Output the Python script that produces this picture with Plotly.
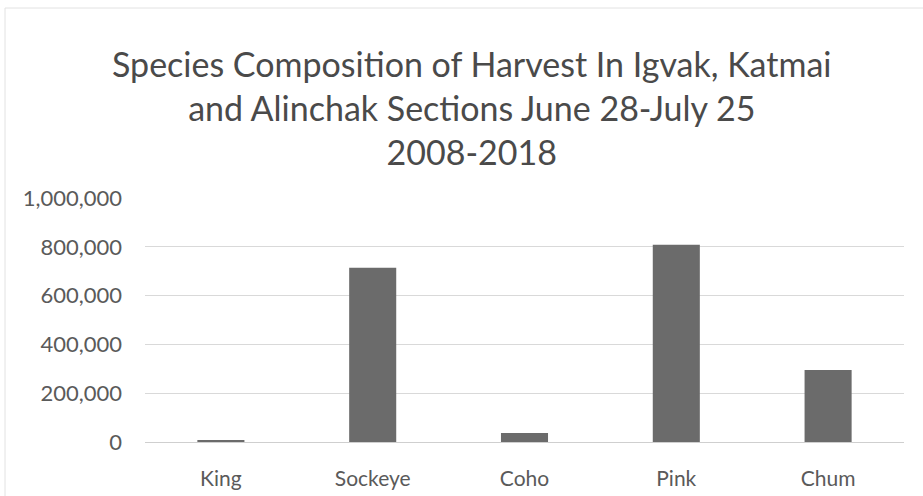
import plotly.graph_objects as go

species = ["King", "Sockeye", "Coho", "Pink", "Chum"]
harvest = [5000, 714000, 37000, 808000, 295000]
y_ticks = [0, 200000, 400000, 600000, 800000, 1000000]
y_tick_labels = ["0", "200,000", "400,000", "600,000", "800,000", "1,000,000"]
title_text = ("Species Composition of Harvest In Igvak, Katmai<br>"
              "and Alinchak Sections June 28-July 25<br>2008-2018")

W, H = 923, 496
L, R, T, B = 145, 19, 198, 54
PW, PH = W - L - R, H - T - B

fig = go.Figure(go.Bar(x=species, y=harvest, marker=dict(color="#6b6b6b", line=dict(width=0)),
                       width=0.31))

fig.update_layout(
    width=W, height=H,
    margin=dict(l=L, r=R, t=T, b=B),
    paper_bgcolor="white", plot_bgcolor="white",
    font=dict(family="Lato", color="#5a5a5a"),
    showlegend=False,
)
fig.add_annotation(text=title_text, xref="paper", yref="paper",
                   x=(472 - L) / PW, y=(H - B - 107) / PH,
                   xanchor="center", yanchor="middle", showarrow=False,
                   align="center",
                   font=dict(family="Lato", size=34, color="#4a4a4a"))
fig.update_yaxes(range=[0, 1000000], tickvals=y_ticks, ticktext=y_tick_labels,
                 showgrid=True, gridcolor="#d9d9d9", gridwidth=1,
                 zeroline=True, zerolinecolor="#cfcfcf", zerolinewidth=1,
                 showline=False, ticks="", ticklabelstandoff=22, automargin=False,
                 tickfont=dict(family="Lato", size=22, color="#5a5a5a"))
fig.update_xaxes(showgrid=False, showline=False, ticks="", ticklabelstandoff=22,
                 automargin=False,
                 tickfont=dict(family="Lato", size=21, color="#5a5a5a"))

fig.add_shape(type="rect", xref="paper", yref="paper",
              x0=-(L - 5) / PW, x1=1 + (R + 5) / PW,
              y0=-(B + 5) / PH, y1=1 + (T - 8) / PH,
              line=dict(color="#e2e2e2", width=1), layer="below")

fig.write_html("out.html")
